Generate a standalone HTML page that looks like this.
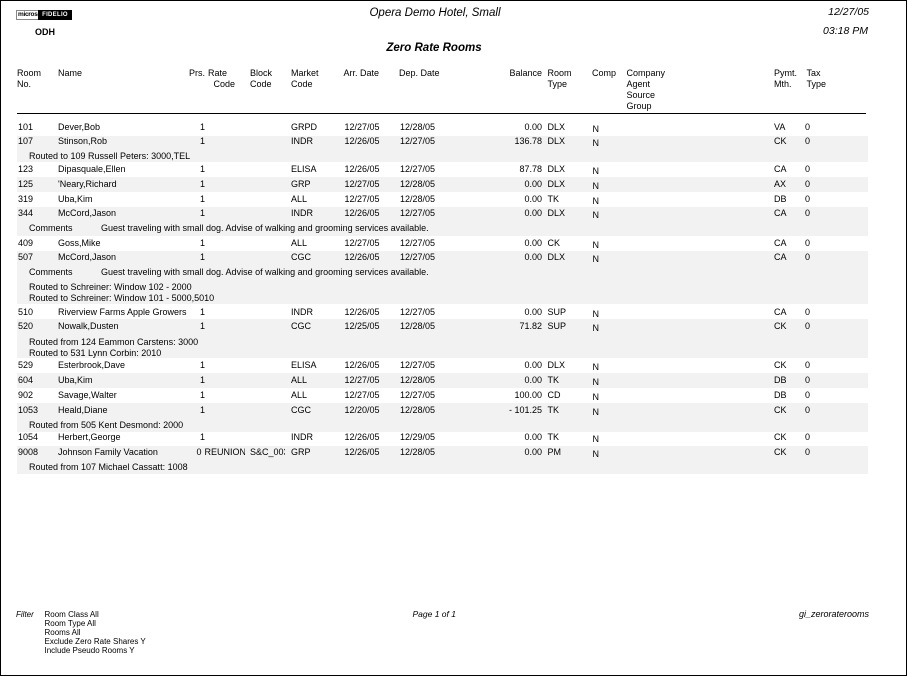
<!DOCTYPE html>
<html><head><meta charset="utf-8">
<style>
html,body{margin:0;padding:0;background:#fff;}
body{width:908px;height:677px;position:relative;overflow:hidden;font-family:"Liberation Sans",Arial,sans-serif;color:#000;}
.frame{position:absolute;left:0;top:0;width:905px;height:674px;border:1px solid #000;}
.t{position:absolute;font-size:9px;line-height:11px;white-space:nowrap;}
.r{text-align:right;}
.band{position:absolute;left:17px;width:851px;background:#f2f2f2;}
.clip{overflow:hidden;}
</style></head><body>
<div class="frame"></div>

<!-- logo -->
<div style="position:absolute;left:16px;top:10px;width:21px;height:8px;border:1px solid #888;background:#fff;font:bold 6.5px/8px 'Liberation Sans',Arial,sans-serif;letter-spacing:-0.3px;overflow:hidden;white-space:nowrap;padding-left:1px;">micros</div>
<div style="position:absolute;left:38px;top:10px;width:34px;height:10px;background:#000;color:#fff;font:bold 6px/10px 'Liberation Sans',Arial,sans-serif;text-align:center;letter-spacing:0.3px;">FIDELIO</div>

<div class="t" style="left:35px;top:27px;font-weight:bold;">ODH</div>
<div class="t" style="left:285px;width:300px;text-align:center;top:7px;font-size:11.5px;line-height:13px;font-style:italic;">Opera Demo Hotel, Small</div>
<div class="t" style="left:284px;width:300px;text-align:center;top:42px;font-size:11.5px;line-height:13px;font-style:italic;font-weight:bold;">Zero Rate Rooms</div>
<div class="t r" style="right:39px;top:6px;font-size:10.5px;line-height:12px;font-style:italic;">12/27/05</div>
<div class="t r" style="right:40px;top:25px;font-size:10.5px;line-height:12px;font-style:italic;">03:18 PM</div>

<!-- column headers -->
<div class="t" style="left:17px;top:68px;">Room</div>
<div class="t" style="left:17px;top:79px;">No.</div>
<div class="t" style="left:58px;top:68px;">Name</div>
<div class="t" style="left:189px;top:68px;">Prs.</div>
<div class="t" style="left:208px;top:68px;">Rate</div>
<div class="t" style="left:213.5px;top:79px;">Code</div>
<div class="t" style="left:250px;top:68px;">Block</div>
<div class="t" style="left:250px;top:79px;">Code</div>
<div class="t" style="left:291px;top:68px;">Market</div>
<div class="t" style="left:291px;top:79px;">Code</div>
<div class="t" style="left:343.5px;top:68px;">Arr. Date</div>
<div class="t" style="left:399px;top:68px;">Dep. Date</div>
<div class="t r" style="right:366px;top:68px;">Balance</div>
<div class="t" style="left:547.5px;top:68px;">Room</div>
<div class="t" style="left:547.5px;top:79px;">Type</div>
<div class="t" style="left:592px;top:68px;">Comp</div>
<div class="t" style="left:626.5px;top:68px;">Company</div>
<div class="t" style="left:626.5px;top:79px;">Agent</div>
<div class="t" style="left:626.5px;top:90px;">Source</div>
<div class="t" style="left:626.5px;top:101px;">Group</div>
<div class="t" style="left:774px;top:68px;">Pymt.</div>
<div class="t" style="left:774px;top:79px;">Mth.</div>
<div class="t" style="left:806.5px;top:68px;">Tax</div>
<div class="t" style="left:806.5px;top:79px;">Type</div>
<div style="position:absolute;left:17px;top:113px;width:849px;height:1px;background:#000;"></div>

<!-- bands -->
<div class="band" style="top:136px;height:26px;"></div>
<div class="band" style="top:177px;height:15px;"></div>
<div class="band" style="top:207px;height:29px;"></div>
<div class="band" style="top:251px;height:53px;"></div>
<div class="band" style="top:319px;height:39px;"></div>
<div class="band" style="top:373px;height:15px;"></div>
<div class="band" style="top:403px;height:29px;"></div>
<div class="band" style="top:446px;height:28px;"></div>

<!-- 101 -->
<div class="t" style="left:18px;top:122px;">101</div>
<div class="t" style="left:58px;top:122px;">Dever,Bob</div>
<div class="t" style="left:200px;top:122px;">1</div>
<div class="t" style="left:291px;top:122px;">GRPD</div>
<div class="t" style="left:344.5px;top:122px;">12/27/05</div>
<div class="t" style="left:400px;top:122px;">12/28/05</div>
<div class="t r" style="right:366px;top:122px;">0.00</div>
<div class="t" style="left:547.5px;top:122px;">DLX</div>
<div class="t" style="left:592.5px;top:124px;">N</div>
<div class="t" style="left:774px;top:122px;">VA</div>
<div class="t" style="left:805px;top:122px;">0</div>

<!-- 107 -->
<div class="t" style="left:18px;top:136px;">107</div>
<div class="t" style="left:58px;top:136px;">Stinson,Rob</div>
<div class="t" style="left:200px;top:136px;">1</div>
<div class="t" style="left:291px;top:136px;">INDR</div>
<div class="t" style="left:344.5px;top:136px;">12/26/05</div>
<div class="t" style="left:400px;top:136px;">12/27/05</div>
<div class="t r" style="right:366px;top:136px;">136.78</div>
<div class="t" style="left:547.5px;top:136px;">DLX</div>
<div class="t" style="left:592.5px;top:138px;">N</div>
<div class="t" style="left:774px;top:136px;">CK</div>
<div class="t" style="left:805px;top:136px;">0</div>
<div class="t" style="left:29px;top:151px;">Routed to 109 Russell Peters: 3000,TEL</div>

<!-- 123 -->
<div class="t" style="left:18px;top:164px;">123</div>
<div class="t" style="left:58px;top:164px;">Dipasquale,Ellen</div>
<div class="t" style="left:200px;top:164px;">1</div>
<div class="t" style="left:291px;top:164px;">ELISA</div>
<div class="t" style="left:344.5px;top:164px;">12/26/05</div>
<div class="t" style="left:400px;top:164px;">12/27/05</div>
<div class="t r" style="right:366px;top:164px;">87.78</div>
<div class="t" style="left:547.5px;top:164px;">DLX</div>
<div class="t" style="left:592.5px;top:166px;">N</div>
<div class="t" style="left:774px;top:164px;">CA</div>
<div class="t" style="left:805px;top:164px;">0</div>

<!-- 125 -->
<div class="t" style="left:18px;top:179px;">125</div>
<div class="t" style="left:58px;top:179px;">'Neary,Richard</div>
<div class="t" style="left:200px;top:179px;">1</div>
<div class="t" style="left:291px;top:179px;">GRP</div>
<div class="t" style="left:344.5px;top:179px;">12/27/05</div>
<div class="t" style="left:400px;top:179px;">12/28/05</div>
<div class="t r" style="right:366px;top:179px;">0.00</div>
<div class="t" style="left:547.5px;top:179px;">DLX</div>
<div class="t" style="left:592.5px;top:181px;">N</div>
<div class="t" style="left:774px;top:179px;">AX</div>
<div class="t" style="left:805px;top:179px;">0</div>

<!-- 319 -->
<div class="t" style="left:18px;top:194px;">319</div>
<div class="t" style="left:58px;top:194px;">Uba,Kim</div>
<div class="t" style="left:200px;top:194px;">1</div>
<div class="t" style="left:291px;top:194px;">ALL</div>
<div class="t" style="left:344.5px;top:194px;">12/27/05</div>
<div class="t" style="left:400px;top:194px;">12/28/05</div>
<div class="t r" style="right:366px;top:194px;">0.00</div>
<div class="t" style="left:547.5px;top:194px;">TK</div>
<div class="t" style="left:592.5px;top:196px;">N</div>
<div class="t" style="left:774px;top:194px;">DB</div>
<div class="t" style="left:805px;top:194px;">0</div>

<!-- 344 -->
<div class="t" style="left:18px;top:208px;">344</div>
<div class="t" style="left:58px;top:208px;">McCord,Jason</div>
<div class="t" style="left:200px;top:208px;">1</div>
<div class="t" style="left:291px;top:208px;">INDR</div>
<div class="t" style="left:344.5px;top:208px;">12/26/05</div>
<div class="t" style="left:400px;top:208px;">12/27/05</div>
<div class="t r" style="right:366px;top:208px;">0.00</div>
<div class="t" style="left:547.5px;top:208px;">DLX</div>
<div class="t" style="left:592.5px;top:210px;">N</div>
<div class="t" style="left:774px;top:208px;">CA</div>
<div class="t" style="left:805px;top:208px;">0</div>
<div class="t" style="left:29px;top:223px;">Comments</div>
<div class="t" style="left:101px;top:223px;">Guest traveling with small dog. Advise of walking and grooming services available.</div>

<!-- 409 -->
<div class="t" style="left:18px;top:238px;">409</div>
<div class="t" style="left:58px;top:238px;">Goss,Mike</div>
<div class="t" style="left:200px;top:238px;">1</div>
<div class="t" style="left:291px;top:238px;">ALL</div>
<div class="t" style="left:344.5px;top:238px;">12/27/05</div>
<div class="t" style="left:400px;top:238px;">12/27/05</div>
<div class="t r" style="right:366px;top:238px;">0.00</div>
<div class="t" style="left:547.5px;top:238px;">CK</div>
<div class="t" style="left:592.5px;top:240px;">N</div>
<div class="t" style="left:774px;top:238px;">CA</div>
<div class="t" style="left:805px;top:238px;">0</div>

<!-- 507 -->
<div class="t" style="left:18px;top:252px;">507</div>
<div class="t" style="left:58px;top:252px;">McCord,Jason</div>
<div class="t" style="left:200px;top:252px;">1</div>
<div class="t" style="left:291px;top:252px;">CGC</div>
<div class="t" style="left:344.5px;top:252px;">12/26/05</div>
<div class="t" style="left:400px;top:252px;">12/27/05</div>
<div class="t r" style="right:366px;top:252px;">0.00</div>
<div class="t" style="left:547.5px;top:252px;">DLX</div>
<div class="t" style="left:592.5px;top:254px;">N</div>
<div class="t" style="left:774px;top:252px;">CA</div>
<div class="t" style="left:805px;top:252px;">0</div>
<div class="t" style="left:29px;top:267px;">Comments</div>
<div class="t" style="left:101px;top:267px;">Guest traveling with small dog. Advise of walking and grooming services available.</div>
<div class="t" style="left:29px;top:282px;">Routed to Schreiner: Window 102 - 2000</div>
<div class="t" style="left:29px;top:292.5px;">Routed to Schreiner: Window 101 - 5000,5010</div>

<!-- 510 -->
<div class="t" style="left:18px;top:307px;">510</div>
<div class="t clip" style="left:58px;top:307px;width:129.5px;">Riverview Farms Apple Growers</div>
<div class="t" style="left:200px;top:307px;">1</div>
<div class="t" style="left:291px;top:307px;">INDR</div>
<div class="t" style="left:344.5px;top:307px;">12/26/05</div>
<div class="t" style="left:400px;top:307px;">12/27/05</div>
<div class="t r" style="right:366px;top:307px;">0.00</div>
<div class="t" style="left:547.5px;top:307px;">SUP</div>
<div class="t" style="left:592.5px;top:309px;">N</div>
<div class="t" style="left:774px;top:307px;">CA</div>
<div class="t" style="left:805px;top:307px;">0</div>

<!-- 520 -->
<div class="t" style="left:18px;top:321px;">520</div>
<div class="t" style="left:58px;top:321px;">Nowalk,Dusten</div>
<div class="t" style="left:200px;top:321px;">1</div>
<div class="t" style="left:291px;top:321px;">CGC</div>
<div class="t" style="left:344.5px;top:321px;">12/25/05</div>
<div class="t" style="left:400px;top:321px;">12/28/05</div>
<div class="t r" style="right:366px;top:321px;">71.82</div>
<div class="t" style="left:547.5px;top:321px;">SUP</div>
<div class="t" style="left:592.5px;top:323px;">N</div>
<div class="t" style="left:774px;top:321px;">CK</div>
<div class="t" style="left:805px;top:321px;">0</div>
<div class="t" style="left:29px;top:337px;">Routed from 124 Eammon Carstens: 3000</div>
<div class="t" style="left:29px;top:348px;">Routed to 531 Lynn Corbin: 2010</div>

<!-- 529 -->
<div class="t" style="left:18px;top:360px;">529</div>
<div class="t" style="left:58px;top:360px;">Esterbrook,Dave</div>
<div class="t" style="left:200px;top:360px;">1</div>
<div class="t" style="left:291px;top:360px;">ELISA</div>
<div class="t" style="left:344.5px;top:360px;">12/26/05</div>
<div class="t" style="left:400px;top:360px;">12/27/05</div>
<div class="t r" style="right:366px;top:360px;">0.00</div>
<div class="t" style="left:547.5px;top:360px;">DLX</div>
<div class="t" style="left:592.5px;top:362px;">N</div>
<div class="t" style="left:774px;top:360px;">CK</div>
<div class="t" style="left:805px;top:360px;">0</div>

<!-- 604 -->
<div class="t" style="left:18px;top:375px;">604</div>
<div class="t" style="left:58px;top:375px;">Uba,Kim</div>
<div class="t" style="left:200px;top:375px;">1</div>
<div class="t" style="left:291px;top:375px;">ALL</div>
<div class="t" style="left:344.5px;top:375px;">12/27/05</div>
<div class="t" style="left:400px;top:375px;">12/28/05</div>
<div class="t r" style="right:366px;top:375px;">0.00</div>
<div class="t" style="left:547.5px;top:375px;">TK</div>
<div class="t" style="left:592.5px;top:377px;">N</div>
<div class="t" style="left:774px;top:375px;">DB</div>
<div class="t" style="left:805px;top:375px;">0</div>

<!-- 902 -->
<div class="t" style="left:18px;top:390px;">902</div>
<div class="t" style="left:58px;top:390px;">Savage,Walter</div>
<div class="t" style="left:200px;top:390px;">1</div>
<div class="t" style="left:291px;top:390px;">ALL</div>
<div class="t" style="left:344.5px;top:390px;">12/27/05</div>
<div class="t" style="left:400px;top:390px;">12/27/05</div>
<div class="t r" style="right:366px;top:390px;">100.00</div>
<div class="t" style="left:547.5px;top:390px;">CD</div>
<div class="t" style="left:592.5px;top:392px;">N</div>
<div class="t" style="left:774px;top:390px;">DB</div>
<div class="t" style="left:805px;top:390px;">0</div>

<!-- 1053 -->
<div class="t" style="left:18px;top:404.5px;">1053</div>
<div class="t" style="left:58px;top:404.5px;">Heald,Diane</div>
<div class="t" style="left:200px;top:404.5px;">1</div>
<div class="t" style="left:291px;top:404.5px;">CGC</div>
<div class="t" style="left:344.5px;top:404.5px;">12/20/05</div>
<div class="t" style="left:400px;top:404.5px;">12/28/05</div>
<div class="t r" style="right:366px;top:404.5px;">- 101.25</div>
<div class="t" style="left:547.5px;top:404.5px;">TK</div>
<div class="t" style="left:592.5px;top:406.5px;">N</div>
<div class="t" style="left:774px;top:404.5px;">CK</div>
<div class="t" style="left:805px;top:404.5px;">0</div>
<div class="t" style="left:29px;top:420px;">Routed from 505 Kent Desmond: 2000</div>

<!-- 1054 -->
<div class="t" style="left:18px;top:432px;">1054</div>
<div class="t" style="left:58px;top:432px;">Herbert,George</div>
<div class="t" style="left:200px;top:432px;">1</div>
<div class="t" style="left:291px;top:432px;">INDR</div>
<div class="t" style="left:344.5px;top:432px;">12/26/05</div>
<div class="t" style="left:400px;top:432px;">12/29/05</div>
<div class="t r" style="right:366px;top:432px;">0.00</div>
<div class="t" style="left:547.5px;top:432px;">TK</div>
<div class="t" style="left:592.5px;top:434px;">N</div>
<div class="t" style="left:774px;top:432px;">CK</div>
<div class="t" style="left:805px;top:432px;">0</div>

<!-- 9008 -->
<div class="t" style="left:18px;top:447px;">9008</div>
<div class="t" style="left:58px;top:447px;">Johnson Family Vacation</div>
<div class="t" style="left:196.5px;top:447px;">0</div>
<div class="t clip" style="left:204.5px;top:447px;width:40.5px;">REUNION</div>
<div class="t clip" style="left:250px;top:447px;width:35px;">S&amp;C_003</div>
<div class="t" style="left:291px;top:447px;">GRP</div>
<div class="t" style="left:344.5px;top:447px;">12/26/05</div>
<div class="t" style="left:400px;top:447px;">12/28/05</div>
<div class="t r" style="right:366px;top:447px;">0.00</div>
<div class="t" style="left:547.5px;top:447px;">PM</div>
<div class="t" style="left:592.5px;top:449px;">N</div>
<div class="t" style="left:774px;top:447px;">CK</div>
<div class="t" style="left:805px;top:447px;">0</div>
<div class="t" style="left:29px;top:462px;">Routed from 107 Michael Cassatt: 1008</div>

<!-- footer -->
<div class="t" style="left:16px;top:609.5px;font-size:8px;line-height:9px;font-style:italic;">Filter</div>
<div class="t" style="left:44.5px;top:609.5px;font-size:8px;line-height:9.2px;">Room Class All<br>Room Type All<br>Rooms All<br>Exclude Zero Rate Shares Y<br>Include Pseudo Rooms Y</div>
<div class="t" style="left:412.5px;top:609px;font-size:8.5px;line-height:10px;font-style:italic;">Page 1 of 1</div>
<div class="t r" style="right:39px;top:608.5px;font-size:9px;line-height:11px;font-style:italic;">gi_zeroraterooms</div>
</body></html>
